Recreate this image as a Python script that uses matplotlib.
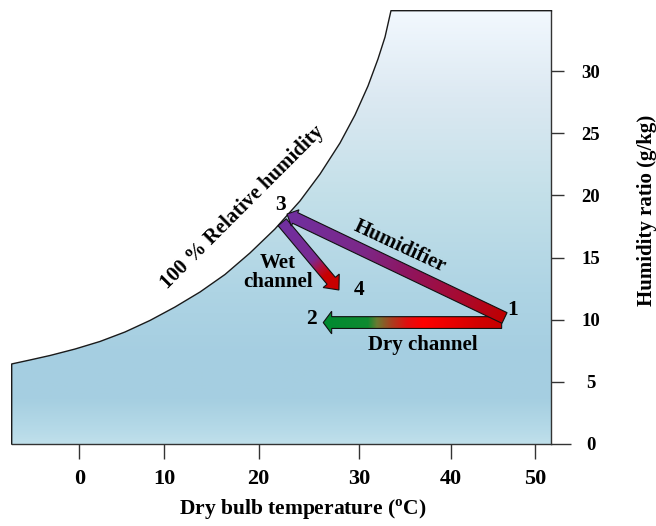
import numpy as np
import matplotlib
matplotlib.use("Agg")
import matplotlib.pyplot as plt
from matplotlib.colors import LinearSegmentedColormap
from matplotlib.patches import Polygon
from matplotlib.transforms import Affine2D, IdentityTransform

plt.rcParams['font.family'] = ['Liberation Serif', 'DejaVu Serif']
plt.rcParams['font.weight'] = 'bold'
plt.rcParams['mathtext.fontset'] = 'custom'
plt.rcParams['mathtext.rm'] = 'Liberation Serif:bold'
plt.rcParams['mathtext.bf'] = 'Liberation Serif:bold'

# ---------------- data ----------------
x_ticks = [0, 10, 20, 30, 40, 50]
y_ticks = [0, 5, 10, 15, 20, 25, 30]
x_min, x_max = -8.0, 52.0
y_max = 34.86

# saturation (100 % RH) curve
sat_temp = [-8.0, -5.84, -3.48, -0.53, 2.43, 5.38, 8.34, 11.16, 13.81, 16.45,
            19.09, 21.63, 24.12, 26.12, 28.11, 29.60, 30.98, 32.07, 32.84, 33.49]
sat_w = [6.44, 6.76, 7.12, 7.64, 8.25, 9.01, 9.94, 11.02, 12.23, 13.64,
         15.37, 17.30, 19.55, 21.72, 24.22, 26.47, 28.80, 30.97, 32.74, 34.86]

# process arrows: (T_start, W_start) -> (T_end, W_end)
humid_start, humid_end = (46.41, 10.14), (22.83, 18.50)
wet_start, wet_end = (22.35, 17.84), (28.0, 12.39)
dry_start, dry_end = (46.07, 9.77), (26.44, 9.77)

# state point labels
state_names = ['1', '2', '3', '4']
state_label_t = [47.42, 25.22, 22.23, 30.0]
state_label_w = [10.78, 10.06, 19.23, 12.35]

# the printed temperature axis is not evenly spaced: calibration of tick values
scale_t = [-1000.0, -8.0, 0, 10, 20, 30, 40, 50, 52.0, 1000.0]
scale_p = [11.7 - 992 * 8.475, 11.7, 79.5, 164.0, 258.6, 359.0, 450.6, 534.7, 551.5,
           551.5 + 948 * 8.4]


def fwd(t):
    return np.interp(t, scale_t, scale_p)


def inv(p):
    return np.interp(p, scale_p, scale_t)


# ---------------- figure ----------------
W_PX, H_PX = 656, 526
fig = plt.figure(figsize=(W_PX / 100, H_PX / 100), dpi=100)
ax_l, ax_r, ax_t, ax_b = 11.7, 551.5, 10.7, 444.0
ax = fig.add_axes([ax_l / W_PX, 1 - ax_b / H_PX, (ax_r - ax_l) / W_PX, (ax_b - ax_t) / H_PX])
ax.set_xscale('function', functions=(fwd, inv))
ax.set_xlim(x_min, x_max)
ax.set_ylim(0, y_max)
ax.set_autoscale_on(False)

# background gradient clipped to region under saturation curve
bg_stops = [(0.0, '#c0e0eb'), (0.03, '#b6dae8'), (0.10, '#a6cfe1'), (0.20, '#a5cee1'),
            (0.35, '#aed4e4'), (0.58, '#c4e0e9'), (0.80, '#dce9f2'), (1.0, '#f2f8fe')]
bg_cmap = LinearSegmentedColormap.from_list('bg', bg_stops)
bg_img = bg_cmap(np.linspace(0, 1, 256))[:, None, :]
im = ax.imshow(bg_img, extent=(0, 1, 0, 1), transform=ax.transAxes, origin='lower',
               aspect='auto', interpolation='bilinear', zorder=0)
region_x = [x_min] + sat_temp + [x_max, x_max]
region_y = [0] + sat_w + [y_max, 0]
region = Polygon(np.column_stack([region_x, region_y]), closed=True,
                 facecolor='none', edgecolor='none', transform=ax.transData)
ax.add_patch(region)
im.set_clip_path(region)

# outline of curve
ax.plot([x_min] + sat_temp + [x_max], [0] + sat_w + [y_max], color='#1a1a1a',
        lw=1.0, clip_on=False, zorder=3, solid_joinstyle='round')

for s in ['top', 'left']:
    ax.spines[s].set_visible(False)
for s in ['right', 'bottom']:
    ax.spines[s].set_linewidth(1.0)
    ax.spines[s].set_color('#333333')


def grad_arrow(start, end, shaft_px, head_w_px, head_l_px, stops, z):
    p0 = ax.transData.transform(start)
    p1 = ax.transData.transform(end)
    d = p1 - p0
    L = np.hypot(*d)
    u = d / L
    n = np.array([-u[1], u[0]])
    w, hw, hl = shaft_px / 2, head_w_px / 2, head_l_px
    local = [(0, -w), (L - hl, -w), (L - hl, -hw), (L, 0), (L - hl, hw), (L - hl, w), (0, w)]
    pts = np.array([p0 + s * u + t * n for s, t in local])
    patch = Polygon(pts, closed=True, facecolor='none', edgecolor='#111111', lw=0.8,
                    transform=IdentityTransform(), zorder=z + 0.5)
    ax.add_patch(patch)
    cmap = LinearSegmentedColormap.from_list('a', stops)
    g = cmap(np.linspace(0, 1, 256))[None, :, :]
    M = np.array([[u[0], n[0], p0[0]], [u[1], n[1], p0[1]], [0, 0, 1]])
    img = ax.imshow(g, extent=(0, L, -hw, hw), origin='lower', aspect='auto',
                    interpolation='bilinear', transform=Affine2D(M), zorder=z)
    img.set_clip_path(patch)


dry_stops = [(0.0, '#c80000'), (0.12, '#d00000'), (0.44, '#ff0000'), (0.53, '#e01010'),
             (0.62, '#a84020'), (0.70, '#6a7a30'), (0.75, '#0e8a30'), (1.0, '#008a30')]
wet_stops = [(0.0, '#7030a0'), (0.55, '#7a2a92'), (0.68, '#b0103a'), (0.78, '#c80000'),
             (1.0, '#c80000')]
humid_stops = [(0.0, '#c00000'), (0.2, '#a80a30'), (0.45, '#8e1560'), (0.65, '#7c2888'),
               (1.0, '#7030a0')]

grad_arrow(dry_start, dry_end, 11.8, 22.6, 8.4, dry_stops, 4)
grad_arrow(wet_start, wet_end, 10.8, 21.0, 12.0, wet_stops, 5)
grad_arrow(humid_start, humid_end, 11.8, 18.0, 9.0, humid_stops, 6)

# texts
for name, t, w in zip(state_names, state_label_t, state_label_w):
    ax.text(t, w, name, fontsize=15.5, ha='center', va='center', zorder=8)
ax.text(34.48, 15.87, 'Humidifier', fontsize=15, rotation=-25, rotation_mode='anchor',
        ha='center', va='center', zorder=8)
ax.text(21.93, 13.8, 'Wet\nchannel', fontsize=15, ha='center', va='center',
        linespacing=0.92, zorder=8)
ax.text(36.99, 7.96, 'Dry channel', fontsize=15, ha='center', va='center', zorder=8)
ax.text(18.25, 19.07, '100 % Relative humidity', fontsize=15, rotation=45,
        rotation_mode='anchor', ha='center', va='center', zorder=8)

# ticks
ax.set_xticks(x_ticks)
ax.set_xticklabels([str(v) for v in x_ticks])
ax.set_yticks(y_ticks)
ax.set_yticklabels([str(v) for v in y_ticks])
ax.yaxis.tick_right()
ax.tick_params(axis='x', direction='out', length=10.8, width=1.0, color='#333333',
               labelsize=16, pad=7.5)
ax.tick_params(axis='y', direction='out', length=9.6, width=1.0, color='#333333',
               labelsize=13.5, pad=18.5)
for lbl in ax.get_yticklabels():
    lbl.set_ha('center')
ax.yaxis.get_major_ticks()[0].tick2line.set_markersize(14.4)

fig.text(302.5 / W_PX, 1 - 510 / H_PX, r'Dry bulb temperature ($^{\mathrm{o}}$C)',
         fontsize=15.5, ha='center', va='center')
fig.text(647 / W_PX, 1 - 210 / H_PX, 'Humidity ratio (g/kg)', fontsize=15,
         rotation=90, ha='center', va='center')

fig.savefig('out.png', dpi=100)
